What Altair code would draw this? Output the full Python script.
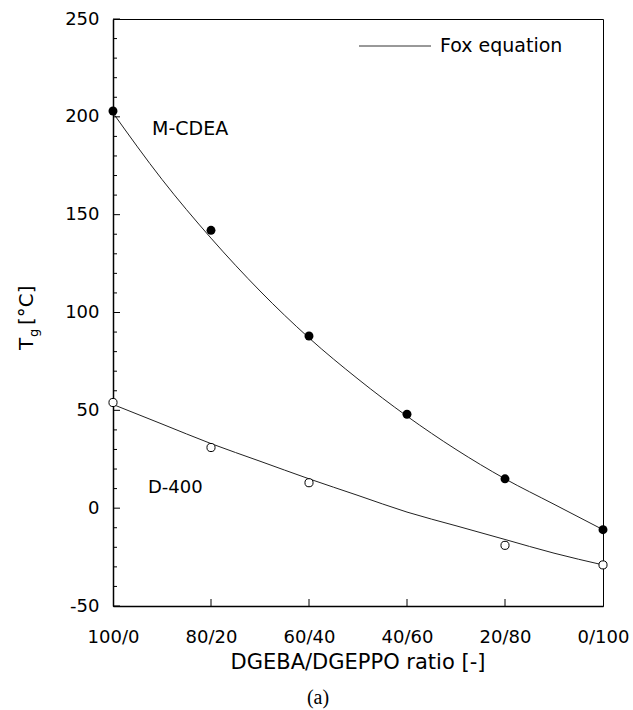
import altair as alt
import pandas as pd

# ---- data ----
# x = DGEPPO share (%), label shown as "DGEBA/DGEPPO"
ratio_x = [0, 20, 40, 60, 80, 100]
mcdea_tg = [203, 142, 88, 48, 15, -11]
d400_x = [0, 20, 40, 80, 100]
d400_tg = [54, 31, 13, -19, -29]

fox_x = [0, 10, 20, 30, 40, 50, 60, 70, 80, 90, 100]
fox_mcdea = [202, 168, 138, 111, 87, 66, 47, 30, 15, 2, -11]
fox_d400 = [53, 43, 33, 24, 15, 6.5, -2, -9, -16, -23, -29]

y_major = [-50, 0, 50, 100, 150, 200, 250]
y_minor = [v for v in range(-40, 250, 10) if v % 50 != 0]
x_ticks = [20, 40, 60, 80]

W, H = 490, 587
FONT = "DejaVu Sans"

xs = alt.Scale(domain=[0, 100], nice=False, zero=False)
ys = alt.Scale(domain=[-50, 250], nice=False, zero=False)

pts_m = pd.DataFrame({"x": ratio_x, "tg": mcdea_tg})
pts_d = pd.DataFrame({"x": d400_x, "tg": d400_tg})
fox = pd.DataFrame({"x": fox_x * 2,
                    "tg": fox_mcdea + fox_d400,
                    "s": ["M-CDEA"] * len(fox_x) + ["D-400"] * len(fox_x)})

xaxis = alt.Axis(values=ratio_x, labelExpr="(100 - datum.value) + '/' + datum.value",
                 title=None, ticks=False, tickSize=0, labelPadding=22, grid=False,
                 labelFlush=False, labelOverlap=False,
                 domainColor="black", domainWidth=1.5, labelFontSize=18, labelFont=FONT,
                 labelColor="black")
yaxis = alt.Axis(values=y_major, labelExpr="'' + datum.value", title=None, ticks=False,
                 tickSize=0, labelPadding=14, labelFlush=False,
                 grid=False, domainColor="black", domainWidth=1.5, labelFontSize=18,
                 labelFont=FONT, labelColor="black")

lines = alt.Chart(fox).mark_line(interpolate="monotone", color="#222", strokeWidth=1).encode(
    x=alt.X("x:Q", scale=xs, axis=xaxis),
    y=alt.Y("tg:Q", scale=ys, axis=yaxis),
    detail="s:N",
)

filled = alt.Chart(pts_m).mark_point(shape="circle", filled=True, color="black", size=80, opacity=1).encode(
    x=alt.X("x:Q", scale=xs), y=alt.Y("tg:Q", scale=ys))
opened = alt.Chart(pts_d).mark_point(shape="circle", filled=True, fill="white", stroke="black",
                                      strokeWidth=1, size=66, opacity=1).encode(
    x=alt.X("x:Q", scale=xs), y=alt.Y("tg:Q", scale=ys))

ymaj = alt.Chart(pd.DataFrame({"v": y_major})).mark_rule(color="black", strokeWidth=1).encode(
    y=alt.Y("v:Q", scale=ys), x=alt.value(0), x2=alt.value(7))
ymin = alt.Chart(pd.DataFrame({"v": y_minor})).mark_rule(color="black", strokeWidth=1).encode(
    y=alt.Y("v:Q", scale=ys), x=alt.value(0), x2=alt.value(4))
xt = alt.Chart(pd.DataFrame({"v": x_ticks})).mark_rule(color="black", strokeWidth=1).encode(
    x=alt.X("v:Q", scale=xs), y=alt.value(H), y2=alt.value(H - 7))

one = pd.DataFrame({"a": [0]})


def label(text, x, y, size=19, font=FONT, align="left", baseline="alphabetic", angle=0):
    kw = dict(text=text, fontSize=size, font=font, align=align, baseline=baseline, color="black")
    if angle:
        kw["angle"] = angle
    return alt.Chart(one).mark_text(**kw).encode(x=alt.value(x), y=alt.value(y))


legend_line = alt.Chart(one).mark_rule(color="#333", strokeWidth=1).encode(
    x=alt.value(246), x2=alt.value(318), y=alt.value(27))

texts = [
    label("Fox equation", 327, 27, baseline="middle"),
    label("M-CDEA", 39, 116),
    label("D-400", 35, 474, size=18),
    label("DGEBA/DGEPPO ratio [-]", W / 2, 644, size=21, align="center", baseline="middle"),
    label("(a)", 205, 679, size=20, font="Liberation Serif", align="center", baseline="middle"),
    label("T", -80, 331, size=20, angle=270),
    label("g", -75, 318, size=13, angle=270),
    label("[°C]", -80, 306, size=20, angle=270),
]

chart = alt.layer(lines, ymaj, ymin, xt, filled, opened, legend_line, *texts).properties(
    width=W, height=H,
    padding={"left": 113, "top": 19, "right": 30, "bottom": 104},
    autosize=alt.AutoSizeParams(type="none"),
    background="white",
).configure_view(stroke="black", strokeWidth=1)

chart.save("out.html", embed_options={"renderer": "svg", "actions": False})
